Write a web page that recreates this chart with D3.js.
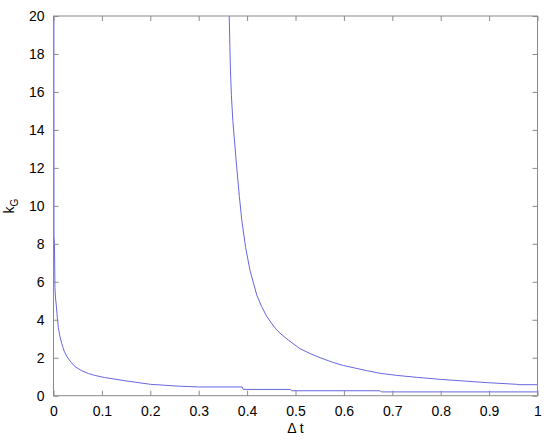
<!DOCTYPE html>
<html><head><meta charset="utf-8">
<script src="https://cdn.jsdelivr.net/npm/d3@7"></script>
<style>body{margin:0;background:#fff}svg{display:block}text{font-family:"Liberation Sans",Arial,sans-serif}</style>
</head><body>
<svg id="c" width="550" height="443"></svg>
<script>
const lowerT = [0.0008,0.001,0.002,0.003,0.004,0.006,0.008,0.010,0.013,0.017,0.022,0.028,0.035,0.045,0.058,0.072,0.085,0.105,0.15,0.2,0.26,0.30,0.39,0.392,0.49,0.492,0.675,0.677,1.0];
const lowerK = [20,8.4,8.0,5.7,5.2,4.7,4.1,3.6,3.15,2.75,2.35,2.05,1.8,1.52,1.32,1.17,1.07,0.96,0.78,0.6,0.5,0.46,0.46,0.33,0.33,0.26,0.26,0.2,0.2];
const upperT = [0.363,0.3655,0.3676,0.3705,0.375,0.379,0.384,0.389,0.397,0.406,0.42,0.43,0.44,0.45,0.46,0.47,0.485,0.509,0.53,0.551,0.578,0.599,0.647,0.675,0.709,0.75,0.799,0.85,0.895,0.957,0.96,1.0];
const upperK = [20,17.2,15.8,14.5,13.1,11.9,10.5,9.25,7.8,6.6,5.3,4.7,4.2,3.83,3.5,3.25,2.93,2.48,2.22,2.0,1.75,1.59,1.32,1.18,1.07,0.97,0.86,0.77,0.69,0.60,0.58,0.58];
const xTicks = [0,0.1,0.2,0.3,0.4,0.5,0.6,0.7,0.8,0.9,1];
const yTicks = [0,2,4,6,8,10,12,14,16,18,20];

const L=53.5,R=537.5,T=16,B=395.7;
const svg=d3.select("#c");
const x=d3.scaleLinear().domain([0,1]).range([L,R]);
const y=d3.scaleLinear().domain([0,20]).range([B,T]);
svg.append("defs").append("clipPath").attr("id","clip").append("rect").attr("x",L).attr("y",T).attr("width",R-L).attr("height",B-T);

const line=d3.line().x(d=>x(d[0])).y(d=>y(d[1]));
const lower=lowerT.map((t,i)=>[t,lowerK[i]]);
const upper=upperT.map((t,i)=>[t,upperK[i]]);
const g=svg.append("g").attr("clip-path","url(#clip)");
[lower,upper].forEach(d=>g.append("path").attr("d",line(d)).attr("fill","none").attr("stroke","#6666e2").attr("stroke-width",1));

const axColor="#8a8a8a";
function styleAxis(sel){sel.select(".domain").remove();sel.selectAll("line").attr("stroke",axColor);sel.selectAll("text").attr("fill","#000").attr("font-size","14px").attr("font-family","Liberation Sans, Arial, sans-serif");}
svg.append("g").attr("transform",`translate(0,${B})`).call(d3.axisBottom(x).tickValues(xTicks).tickFormat(d3.format("")).tickSizeInner(-5).tickPadding(10)).call(styleAxis);
svg.append("g").attr("transform",`translate(0,${T})`).call(d3.axisTop(x).tickValues(xTicks).tickFormat("").tickSizeInner(-5)).call(styleAxis);
svg.append("g").attr("transform",`translate(${L},0)`).call(d3.axisLeft(y).tickValues(yTicks).tickFormat(d3.format("")).tickSizeInner(-5).tickPadding(9)).call(styleAxis);
svg.append("g").attr("transform",`translate(${R},0)`).call(d3.axisRight(y).tickValues(yTicks).tickFormat("").tickSizeInner(-5)).call(styleAxis);
svg.append("rect").attr("x",L).attr("y",T).attr("width",R-L).attr("height",B-T).attr("fill","none").attr("stroke",axColor).attr("stroke-width",1);

svg.append("text").attr("x",(L+R)/2).attr("y",433).attr("text-anchor","middle").attr("font-size","14px").text("Δ t");
const yl=svg.append("text").attr("transform","translate(14,206) rotate(-90)").attr("text-anchor","middle").attr("font-size","14px");
yl.append("tspan").text("k");
yl.append("tspan").attr("font-size","10px").attr("dy",4).text("G");
</script>
</body></html>
